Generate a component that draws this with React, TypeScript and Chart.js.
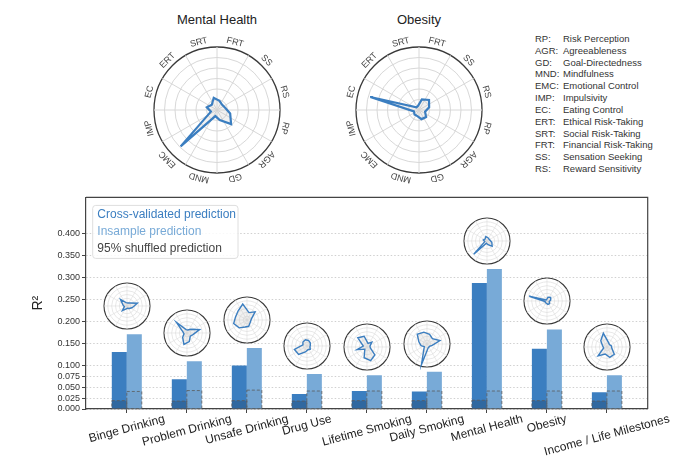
import { useEffect, useRef } from 'react';
import { Chart, registerables } from 'chart.js';

Chart.register(...registerables);

const FONT = "'Liberation Sans', Arial, sans-serif";
const BLUE = '#3b7ec0';
const LIGHT_BLUE = '#78aad7';

// bar chart data
const categories = [
  'Binge Drinking', 'Problem Drinking', 'Unsafe Drinking', 'Drug Use', 'Lifetime Smoking',
  'Daily Smoking', 'Mental Health', 'Obesity', 'Income / Life Milestones',
];
const cvR2 = [0.130, 0.068, 0.099, 0.034, 0.041, 0.040, 0.287, 0.137, 0.038];
const insampleR2 = [0.170, 0.109, 0.139, 0.080, 0.077, 0.085, 0.319, 0.181, 0.077];
const shuffledCv = [0.019, 0.018, 0.019, 0.018, 0.019, 0.019, 0.020, 0.019, 0.018];
const shuffledIs = [0.040, 0.042, 0.043, 0.041, 0.041, 0.041, 0.041, 0.041, 0.041];
const yTicks = [0, 0.025, 0.05, 0.075, 0.1, 0.15, 0.2, 0.25, 0.3, 0.35, 0.4];

// trait codes, in radar order
const traitCodes = ['RP', 'AGR', 'GD', 'MND', 'EMC', 'IMP', 'EC', 'ERT', 'SRT', 'FRT', 'SS', 'RS'];
const traitNames = [
  'Risk Perception', 'Agreeableness', 'Goal-Directedness', 'Mindfulness', 'Emotional Control',
  'Impulsivity', 'Eating Control', 'Ethical Risk-Taking', 'Social Risk-Taking',
  'Financial Risk-Taking', 'Sensation Seeking', 'Reward Sensitivity',
];

// trait weight profiles per outcome (RP ... RS)
const bingeProfile = [1.5, 0.9, 0.6, 0.8, 1.7, 0.7, 1.1, 2.4, 0.9, 0.8, 1.1, 2.8];
const problemProfile = [1.6, 1.2, 2.3, 3.1, 1.6, 0.8, 1.1, 3.9, 0.9, 0.8, 1.4, 3.4];
const unsafeProfile = [1.0, 1.1, 1.7, 1.9, 2.9, 3.6, 3.1, 3.3, 4.3, 2.0, 3.0, 1.2];
const drugProfile = [0.8, 1.2, 1.0, 1.6, 3.1, 3.4, 1.1, 1.5, 1.7, 1.5, 1.2, 0.9];
const lifetimeProfile = [0.9, 2.9, 3.7, 2.9, 0.8, 2.7, 1.0, 3.4, 2.9, 1.0, 1.8, 0.8];
const dailyProfile = [1.4, 0.9, 1.1, 5.6, 1.0, 1.6, 2.2, 3.6, 3.2, 2.6, 2.0, 3.5];
const mentalProfile = [1.3, 1.9, 1.0, 0.6, 4.9, 0.6, 1.0, 0.7, 1.2, 0.9, 0.7, 0.8];
const obesityProfile = [0.6, 0.95, 0.9, 0.6, 0.6, 0.5, 4.8, 0.35, 0.4, 1.05, 1.35, 1.0];
const incomeProfile = [1.3, 2.7, 2.8, 1.9, 3.3, 0.9, 1.2, 2.3, 3.7, 1.3, 0.9, 1.2];
const profiles = [
  bingeProfile, problemProfile, unsafeProfile, drugProfile, lifetimeProfile,
  dailyProfile, mentalProfile, obesityProfile, incomeProfile,
];

const BAR_LEFT = 0;
const BAR_TOP = 190;
const MINI = 52;
const BIG = 170;

const radarBg = {
  id: 'radarBg',
  beforeDraw(chart: any) {
    const s = chart.scales.r;
    const ctx = chart.ctx;
    ctx.save();
    ctx.fillStyle = '#fff';
    ctx.beginPath();
    ctx.arc(s.xCenter, s.yCenter, s.drawingArea, 0, Math.PI * 2);
    ctx.fill();
    ctx.restore();
  },
};

const spokes = {
  id: 'spokes',
  beforeDatasetsDraw(chart: any, _args: any, opts: any) {
    const s = chart.scales.r;
    const ctx = chart.ctx;
    ctx.save();
    ctx.strokeStyle = opts.color;
    ctx.lineWidth = opts.width;
    for (let k = 0; k < 12; k++) {
      const a = (k * 30 * Math.PI) / 180 - Math.PI / 2;
      ctx.beginPath();
      ctx.moveTo(s.xCenter, s.yCenter);
      ctx.lineTo(s.xCenter + Math.cos(a) * s.drawingArea, s.yCenter + Math.sin(a) * s.drawingArea);
      ctx.stroke();
    }
    ctx.restore();
  },
};

const traitLabels = {
  id: 'traitLabels',
  afterDraw(chart: any) {
    const s = chart.scales.r;
    const ctx = chart.ctx;
    ctx.save();
    ctx.font = `9px ${FONT}`;
    ctx.fillStyle = '#444';
    ctx.textAlign = 'center';
    ctx.textBaseline = 'middle';
    chart.data.labels.forEach((lab: string, i: number) => {
      const p = s.getPointPosition(i, s.drawingArea + 7);
      ctx.save();
      ctx.translate(p.x, p.y);
      ctx.rotate(s.getIndexAngle(i));
      ctx.fillText(lab, 0, 0);
      ctx.restore();
    });
    ctx.restore();
  },
};

function makeRadar(canvas: HTMLCanvasElement, values: number[], big: boolean) {
  return new Chart(canvas, {
    type: 'radar',
    data: {
      labels: traitCodes,
      datasets: [{
        data: values,
        borderColor: BLUE,
        borderWidth: big ? 2.2 : 1.4,
        backgroundColor: 'rgba(190,190,190,0.22)',
        fill: true,
        pointRadius: 0,
        tension: 0,
      }],
    },
    options: {
      animation: false,
      responsive: false,
      events: [],
      layout: { padding: big ? 22 : 3 },
      plugins: {
        legend: { display: false },
        tooltip: { enabled: false },
        spokes: { color: big ? '#d8d8d8' : '#dcdcdc', width: big ? 1 : 0.6 },
      } as any,
      scales: {
        r: {
          min: 0,
          max: 6,
          startAngle: 105,
          ticks: { display: false, stepSize: 1 },
          pointLabels: { display: false },
          angleLines: { display: false },
          grid: {
            circular: true,
            color: (c: any) => (c.index === 6 ? '#3a3a3a' : '#d8d8d8'),
            lineWidth: (c: any) => (c.index === 6 ? (big ? 1.3 : 1.1) : (big ? 1 : 0.6)),
          },
        },
      },
    },
    plugins: big ? [radarBg, spokes, traitLabels] : [radarBg, spokes],
  } as any);
}

const shuffledOutline = {
  id: 'shuffledOutline',
  afterDatasetsDraw(chart: any) {
    const ctx = chart.ctx;
    ctx.save();
    ctx.setLineDash([3, 2]);
    ctx.strokeStyle = '#5a5a5a';
    ctx.lineWidth = 0.8;
    [0, 1].forEach((di) => {
      chart.getDatasetMeta(di).data.forEach((bar: any) => {
        const { x, y, base, width } = bar.getProps(['x', 'y', 'base', 'width'], true);
        ctx.strokeRect(x - width / 2, y, width, base - y);
      });
    });
    ctx.restore();
  },
};

const frame = {
  id: 'frame',
  afterDraw(chart: any) {
    const { ctx, chartArea: a } = chart;
    ctx.save();
    ctx.strokeStyle = '#444';
    ctx.lineWidth = 1.2;
    ctx.beginPath();
    ctx.moveTo(a.left, a.top);
    ctx.lineTo(a.right, a.top);
    ctx.lineTo(a.right, a.bottom);
    ctx.stroke();
    ctx.restore();
  },
};

const legendBox = {
  id: 'legendBox',
  afterDraw(chart: any) {
    const { ctx, chartArea: a } = chart;
    const x = a.left + 6.7;
    const y = a.top + 8;
    ctx.save();
    ctx.fillStyle = 'rgba(255,255,255,0.85)';
    ctx.strokeStyle = '#dedede';
    ctx.lineWidth = 1;
    ctx.beginPath();
    ctx.roundRect(x, y, 145.3, 53, 3);
    ctx.fill();
    ctx.stroke();
    ctx.font = `12px ${FONT}`;
    ctx.textBaseline = 'middle';
    const items = [
      ['Cross-validated prediction', BLUE],
      ['Insample prediction', LIGHT_BLUE],
      ['95% shuffled prediction', '#444'],
    ];
    items.forEach(([t, c], i) => {
      ctx.fillStyle = c;
      ctx.fillText(t, x + 4.6, y + 9 + i * 17);
    });
    ctx.restore();
  },
};

const xLabels = {
  id: 'xLabels',
  afterDraw(chart: any) {
    const { ctx, chartArea: a } = chart;
    const xs = chart.scales.x;
    const th = (15 * Math.PI) / 180;
    ctx.save();
    ctx.font = `12px ${FONT}`;
    ctx.fillStyle = '#222';
    ctx.textAlign = 'center';
    ctx.textBaseline = 'middle';
    chart.data.labels.forEach((lab: string, i: number) => {
      const w = ctx.measureText(lab).width;
      const cx = xs.getPixelForTick(i);
      const cy = a.bottom + 4 + (w / 2) * Math.sin(th) + 6 * Math.cos(th);
      ctx.save();
      ctx.translate(cx, cy);
      ctx.rotate(-th);
      ctx.fillText(lab, 0, 0);
      ctx.restore();
    });
    // y axis title
    ctx.font = `14px ${FONT}`;
    ctx.save();
    ctx.translate(38, (a.top + a.bottom) / 2);
    ctx.rotate(-Math.PI / 2);
    ctx.fillText('R²', 0, 0);
    ctx.restore();
    ctx.restore();
  },
};

export default function App() {
  const barRef = useRef<HTMLCanvasElement>(null);
  const mhRef = useRef<HTMLCanvasElement>(null);
  const obRef = useRef<HTMLCanvasElement>(null);
  const miniRefs = useRef<(HTMLCanvasElement | null)[]>([]);

  useEffect(() => {
    document.body.style.margin = '0';
    const charts: Chart[] = [];
    const bar = new Chart(barRef.current!, {
      type: 'bar',
      data: {
        labels: categories,
        datasets: [
          { label: '95% shuffled prediction', data: shuffledCv, stack: 'cv', order: 0, backgroundColor: 'rgba(20,45,80,0.28)', borderWidth: 0 },
          { label: '95% shuffled prediction', data: shuffledIs, stack: 'is', order: 0, backgroundColor: 'rgba(20,45,80,0.05)', borderWidth: 0 },
          { label: 'Cross-validated prediction', data: cvR2, stack: 'cv', order: 1, backgroundColor: BLUE, borderWidth: 0 },
          { label: 'Insample prediction', data: insampleR2, stack: 'is', order: 1, backgroundColor: LIGHT_BLUE, borderWidth: 0 },
        ],
      },
      options: {
        animation: false,
        responsive: false,
        events: [],
        layout: { padding: { top: 7, right: 32.3, left: 0, bottom: 0 } },
        datasets: { bar: { categoryPercentage: 0.5, barPercentage: 1 } },
        plugins: { legend: { display: false }, tooltip: { enabled: false } },
        scales: {
          x: {
            stacked: true,
            afterBuildTicks: (s: any) => {
              s._startValue = -0.68;
              s._valueRange = categories.length - 1 + 1.36;
            },
            afterFit: (s: any) => { s.height = 65; },
            ticks: { display: false },
            grid: { offset: false, drawOnChartArea: false, tickLength: 4, color: '#444', tickColor: '#444' },
            border: { color: '#444', width: 1.2 },
          },
          y: {
            stacked: false,
            min: 0,
            max: 0.482,
            afterBuildTicks: (s: any) => { s.ticks = yTicks.map((value) => ({ value })); },
            afterFit: (s: any) => { s.width = 86; },
            ticks: {
              callback: (v: any) => Number(v).toFixed(3),
              font: { size: 9, family: FONT },
              color: '#333',
              padding: 2,
            },
            grid: { color: '#c4c4c4', lineWidth: 0.8, tickLength: 4, tickColor: '#444', tickBorderDash: [], tickWidth: 1 },
            border: { color: '#444', width: 1.2, dash: [1.5, 2] },
          },
        },
      },
      plugins: [shuffledOutline, frame, legendBox, xLabels],
    } as any);
    charts.push(bar);
    charts.push(makeRadar(mhRef.current!, mentalProfile, true));
    charts.push(makeRadar(obRef.current!, obesityProfile, true));

    const xs = bar.scales.x;
    const ys = bar.scales.y;
    profiles.forEach((p, i) => {
      const c = miniRefs.current[i]!;
      const cx = xs.getPixelForValue(i);
      const cy = ys.getPixelForValue(Math.max(cvR2[i], insampleR2[i]) + 0.064);
      c.style.left = `${BAR_LEFT + cx - MINI / 2}px`;
      c.style.top = `${BAR_TOP + cy - MINI / 2}px`;
      charts.push(makeRadar(c, p, false));
    });
    return () => charts.forEach((c) => c.destroy());
  }, []);

  const textStyle = { fontFamily: FONT, color: '#333' };

  return (
    <div style={{ position: 'relative', width: 680, height: 474, background: '#fff', overflow: 'hidden' }}>
      <div style={{ ...textStyle, position: 'absolute', left: 157, width: 120, top: 11, textAlign: 'center', fontSize: 13, lineHeight: '18px', color: '#222' }}>Mental Health</div>
      <div style={{ ...textStyle, position: 'absolute', left: 359, width: 120, top: 11, textAlign: 'center', fontSize: 13, lineHeight: '18px', color: '#222' }}>Obesity</div>
      <canvas ref={mhRef} width={BIG} height={BIG} style={{ position: 'absolute', left: 217 - BIG / 2, top: 110 - BIG / 2, width: BIG, height: BIG }} />
      <canvas ref={obRef} width={BIG} height={BIG} style={{ position: 'absolute', left: 419 - BIG / 2, top: 110 - BIG / 2, width: BIG, height: BIG }} />
      {traitCodes.map((code, i) => (
        <div key={code} style={{ ...textStyle, position: 'absolute', top: 33 + i * 11.83, height: 12, lineHeight: '12px', fontSize: 9.5, whiteSpace: 'nowrap' }}>
          <span style={{ position: 'absolute', left: 535 }}>{code}:</span>
          <span style={{ position: 'absolute', left: 563 }}>{traitNames[i]}</span>
        </div>
      ))}
      <canvas ref={barRef} width={680} height={284} style={{ position: 'absolute', left: BAR_LEFT, top: BAR_TOP, width: 680, height: 284 }} />
      {profiles.map((_, i) => (
        <canvas
          key={i}
          ref={(el) => { miniRefs.current[i] = el; }}
          width={MINI}
          height={MINI}
          style={{ position: 'absolute', left: 0, top: 0, width: MINI, height: MINI }}
        />
      ))}
    </div>
  );
}
